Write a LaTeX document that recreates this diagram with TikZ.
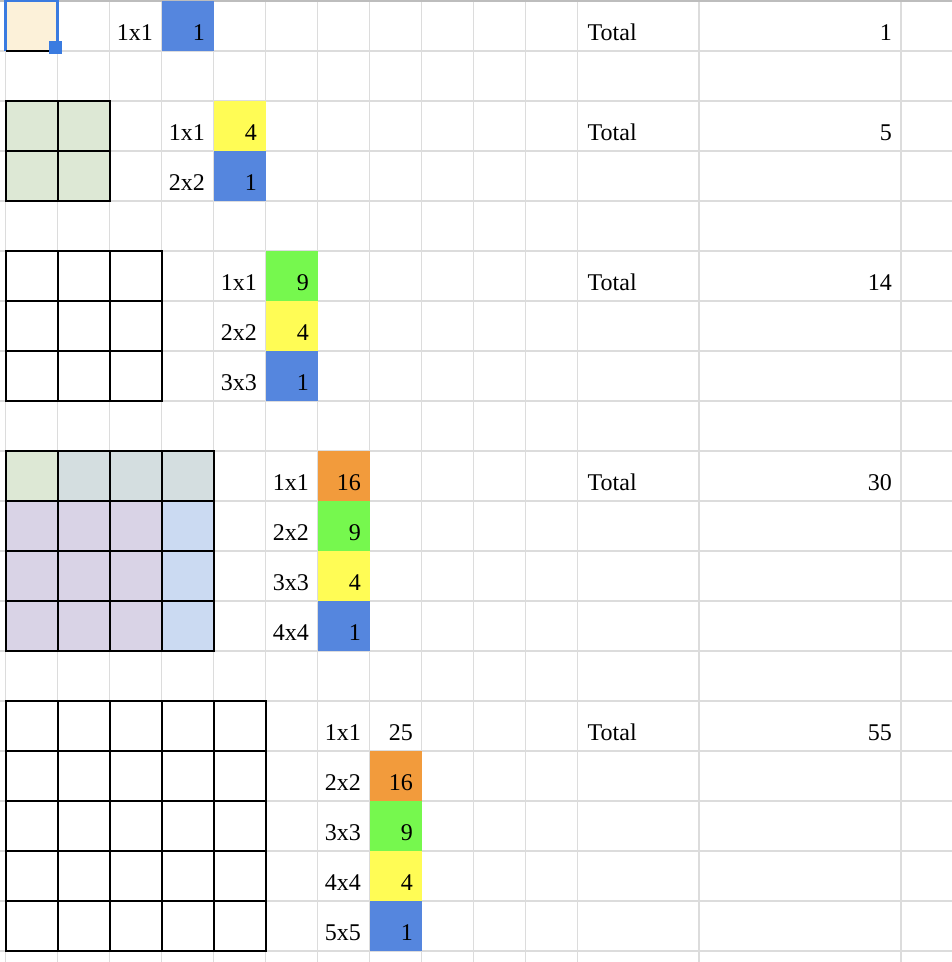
\documentclass[tikz,border=0pt]{standalone}
\usepackage{fontspec}
\setmainfont{Liberation Serif}
\definecolor{cream}{HTML}{FCF1D9}
\definecolor{selblue}{HTML}{3A7BE0}
\definecolor{cblue}{HTML}{5586DE}
\definecolor{cyellow}{HTML}{FFFC55}
\definecolor{cgreen}{HTML}{76F84E}
\definecolor{corange}{HTML}{F29B3C}
\definecolor{lgreen}{HTML}{DDE8D5}
\definecolor{tealgray}{HTML}{D4DEE0}
\definecolor{lavender}{HTML}{D9D3E6}
\definecolor{lblue}{HTML}{CBDAF2}
\definecolor{gridgray}{HTML}{DCDCDC}
\definecolor{topgray}{HTML}{BDBDBD}
\newcommand\mysqgrid[2]{%
  \foreach \i in {0,...,#1} {
    \draw[boldline] ({5.5+52*\i},#2) -- ({5.5+52*\i},{#2+50*#1});
    \draw[boldline] (5.5,{#2+50*\i}) -- ({5.5+52*#1},{#2+50*\i});
  }%
}
\begin{document}
\begin{tikzpicture}[x=1pt,y=-1pt,
  lbl/.style={font=\fontsize{24}{28}\selectfont, inner sep=0pt, anchor=base east},
  tot/.style={font=\fontsize{24}{28}\selectfont, inner sep=0pt, anchor=base west},
  gline/.style={draw=gridgray, line width=1.5pt},
  boldline/.style={draw=black, line width=2pt, line cap=rect}]
\useasboundingbox (0,0) rectangle (952,962);
\fill[white] (0,0) rectangle (952,962);
% spreadsheet grid
\foreach \k in {1,...,19} \draw[gline] (0,{1+50*\k}) -- (952,{1+50*\k});
\foreach \x in {5.5,57.5,109.5,161.5,213.5,265.5,317.5,369.5,421.5,473.5,525.5,577.5,699,901}
  \draw[gline] (\x,0) -- (\x,962);
\draw[topgray, line width=2.5pt] (0,1) -- (952,1);
% selected cell A1
\fill[cream] (5.5,1) rectangle (57.5,51);
\draw[selblue, line width=2.5pt] (49,51) -- (57.5,51) -- (57.5,1) -- (5.5,1) -- (5.5,51);
\draw[black, line width=2.5pt] (5.5,51) -- (49,51);
\fill[selblue] (49,41) rectangle (62,54);
% coloured value cells
\fill[cblue] (161.5,1) rectangle (213.5,51);
\fill[cyellow] (213.5,101) rectangle (265.5,151);
\fill[cblue] (213.5,151) rectangle (265.5,201);
\fill[cgreen] (265.5,251) rectangle (317.5,301);
\fill[cyellow] (265.5,301) rectangle (317.5,351);
\fill[cblue] (265.5,351) rectangle (317.5,401);
\fill[corange] (317.5,451) rectangle (369.5,501);
\fill[cgreen] (317.5,501) rectangle (369.5,551);
\fill[cyellow] (317.5,551) rectangle (369.5,601);
\fill[cblue] (317.5,601) rectangle (369.5,651);
\fill[corange] (369.5,751) rectangle (421.5,801);
\fill[cgreen] (369.5,801) rectangle (421.5,851);
\fill[cyellow] (369.5,851) rectangle (421.5,901);
\fill[cblue] (369.5,901) rectangle (421.5,951);
% square grids
\fill[lgreen] (5.5,101) rectangle (109.5,201);
\mysqgrid{2}{101}
\fill[white] (5.5,251) rectangle (161.5,401);
\mysqgrid{3}{251}
\fill[lgreen] (5.5,451) rectangle (57.5,501);
\fill[tealgray] (57.5,451) rectangle (213.5,501);
\fill[lavender] (5.5,501) rectangle (161.5,651);
\fill[lblue] (161.5,501) rectangle (213.5,651);
\mysqgrid{4}{451}
\fill[white] (5.5,701) rectangle (265.5,951);
\mysqgrid{5}{701}
% block 1
\node[lbl] (s1a) at (153,40) {1x1};
\node[lbl] (v1a) at (205,40) {1};
\node[tot] (t1) at (587.5,40) {Total};
\node[lbl] (n1) at (892,40) {1};
% block 2
\node[lbl] (s2a) at (205,140) {1x1};
\node[lbl] (v2a) at (257,140) {4};
\node[lbl] (s2b) at (205,190) {2x2};
\node[lbl] (v2b) at (257,190) {1};
\node[tot] (t2) at (587.5,140) {Total};
\node[lbl] (n2) at (892,140) {5};
% block 3
\node[lbl] (s3a) at (257,290) {1x1};
\node[lbl] (v3a) at (309,290) {9};
\node[lbl] (s3b) at (257,340) {2x2};
\node[lbl] (v3b) at (309,340) {4};
\node[lbl] (s3c) at (257,390) {3x3};
\node[lbl] (v3c) at (309,390) {1};
\node[tot] (t3) at (587.5,290) {Total};
\node[lbl] (n3) at (892,290) {14};
% block 4
\node[lbl] (s4a) at (309,490) {1x1};
\node[lbl] (v4a) at (361,490) {16};
\node[lbl] (s4b) at (309,540) {2x2};
\node[lbl] (v4b) at (361,540) {9};
\node[lbl] (s4c) at (309,590) {3x3};
\node[lbl] (v4c) at (361,590) {4};
\node[lbl] (s4d) at (309,640) {4x4};
\node[lbl] (v4d) at (361,640) {1};
\node[tot] (t4) at (587.5,490) {Total};
\node[lbl] (n4) at (892,490) {30};
% block 5
\node[lbl] (s5a) at (361,740) {1x1};
\node[lbl] (v5a) at (413,740) {25};
\node[lbl] (s5b) at (361,790) {2x2};
\node[lbl] (v5b) at (413,790) {16};
\node[lbl] (s5c) at (361,840) {3x3};
\node[lbl] (v5c) at (413,840) {9};
\node[lbl] (s5d) at (361,890) {4x4};
\node[lbl] (v5d) at (413,890) {4};
\node[lbl] (s5e) at (361,940) {5x5};
\node[lbl] (v5e) at (413,940) {1};
\node[tot] (t5) at (587.5,740) {Total};
\node[lbl] (n5) at (892,740) {55};
\end{tikzpicture}
\end{document}
